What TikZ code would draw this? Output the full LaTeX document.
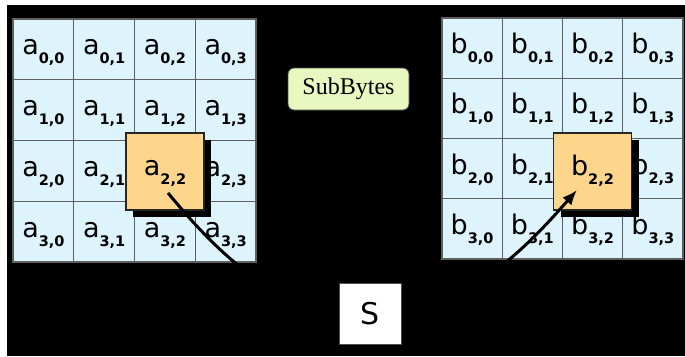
\documentclass[tikz,border=0pt]{standalone}
\usepackage{fontspec}
\setmainfont{DejaVu Sans}
\newfontfamily\serifbox{Liberation Serif}
\usetikzlibrary{arrows.meta,shadows}
\definecolor{cellblue}{RGB}{221,244,252}
\definecolor{cellline}{RGB}{95,95,95}
\definecolor{hlorange}{RGB}{253,214,140}
\definecolor{subgreen}{RGB}{232,248,192}
\newcommand\cellsub[1]{\raisebox{-9pt}{\fontsize{14.5}{14.5}\selectfont\bfseries #1}}
\tikzset{
  cellbase/.style={draw=cellline, line width=1.3pt, fill=cellblue, inner sep=0pt,
    font=\fontsize{27}{27}\selectfont, text height=22pt, text depth=10.8pt},
  acell/.style={cellbase, minimum width=60.75pt, minimum height=60.75pt},
  bcell/.style={cellbase, minimum width=60.25pt, minimum height=60.25pt},
  hl/.style={draw=black!85, line width=1.2pt, fill=hlorange, inner sep=0pt,
    minimum width=78pt, minimum height=77pt,
    font=\fontsize{27}{27}\selectfont, text height=22pt, text depth=14pt,
    drop shadow={shadow xshift=7pt, shadow yshift=-7pt, fill=black, opacity=1}},
  opbox/.style={draw=black!70, line width=0.8pt, fill=subgreen, rounded corners=6pt,
    minimum width=121pt, minimum height=42pt, inner sep=0pt,
    font=\serifbox\fontsize{24}{24}\selectfont},
  sbox/.style={draw=black!70, line width=0.8pt, fill=white, inner sep=0pt,
    minimum width=62pt, minimum height=61pt, font=\fontsize{30}{30}\selectfont},
  conn/.style={line width=3pt, draw=black},
}
\begin{document}
\begin{tikzpicture}[x=1pt,y=-1pt]
\useasboundingbox (0,0) rectangle (685,356);
\fill[white] (0,0) rectangle (685,356);
\fill[black] (6.5,5) rectangle (685,356);
% grid a
\foreach \r in {0,...,3}{
  \foreach \c in {0,...,3}{
    \node[acell] (a\r\c) at ({13+(\c+0.5)*60.75},{19+(\r+0.5)*60.75}) {a\cellsub{\r,\c}};
  }
}
% grid b
\foreach \r in {0,...,3}{
  \foreach \c in {0,...,3}{
    \node[bcell] (b\r\c) at ({442+(\c+0.5)*60.25},{18+(\r+0.5)*60.25}) {b\cellsub{\r,\c}};
  }
}
% highlighted bytes
\node[hl] (A22) at (165,171.5) {a\cellsub{2,2}};
\node[hl] (B22) at (592.5,171.5) {b\cellsub{2,2}};
% operation label
\node[opbox] (sub) at (348.5,89) {SubBytes};
% S-box
\node[sbox] (S) at (370,313.5) {S};
% connectors
\draw[conn, shorten >=3pt] ([shift={(3,21.5)}]A22.center) .. controls +(35,42) and +(-79,-13.5) .. (S.west);
\draw[conn, shorten <=3pt, -{Latex[length=15pt,width=12pt]}] (S.east) .. controls +(79,-13.5) and +(-37,42) .. ([shift={(-15.5,18.5)}]B22.center);
\end{tikzpicture}
\end{document}
